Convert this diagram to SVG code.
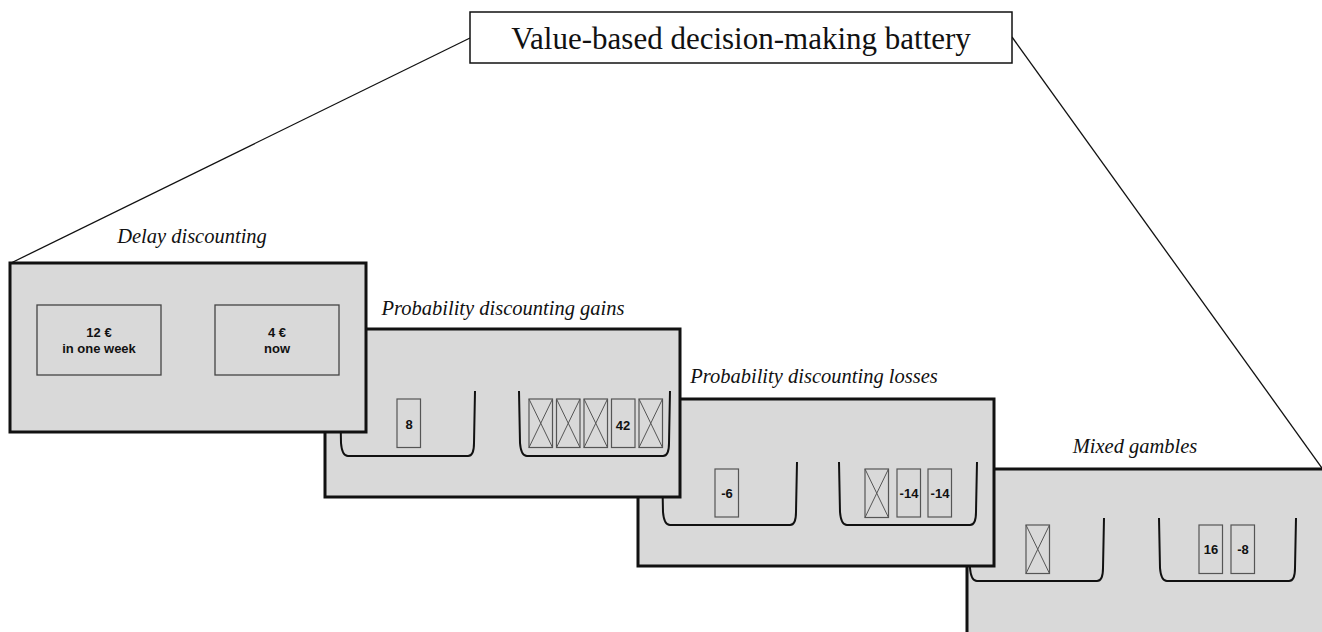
<svg xmlns="http://www.w3.org/2000/svg" width="1322" height="632" viewBox="0 0 1322 632">
  <style>
    .frame { fill: #d9d9d9; stroke: #111; stroke-width: 3; }
    .label { font-family: "Liberation Serif", "Times New Roman", serif; font-style: italic; font-size: 20.5px; fill: #111; text-anchor: middle; }
    .title-box { fill: #fff; stroke: #111; stroke-width: 1.5; }
    .title { font-family: "Liberation Serif", "Times New Roman", serif; font-size: 31px; fill: #111; text-anchor: middle; }
    .option { fill: none; stroke: #444; stroke-width: 1.3; }
    .card { fill: none; stroke: #555; stroke-width: 1.2; }
    .cross { stroke: #555; stroke-width: 1; }
    .bucket { fill: none; stroke: #111; stroke-width: 2; }
    .val { font-family: "Liberation Sans", Arial, sans-serif; font-weight: bold; font-size: 13px; fill: #111; text-anchor: middle; }
    .opt-text { font-family: "Liberation Sans", Arial, sans-serif; font-weight: bold; font-size: 13px; fill: #111; text-anchor: middle; }
    .link { stroke: #111; stroke-width: 1.3; fill: none; }
  </style>
  <defs>
    <!-- covered (hidden) card: box with a cross -->
    <g id="hidden-card">
      <rect class="card" x="0" y="0" width="23.5" height="48.5"/>
      <line class="cross" x1="0" y1="0" x2="23.5" y2="48.5"/>
      <line class="cross" x1="23.5" y1="0" x2="0" y2="48.5"/>
    </g>
  </defs>

  <!-- connectors from the battery title to the first and last task -->
  <g id="connectors">
    <line class="link" x1="470" y1="38" x2="11" y2="263"/>
    <line class="link" x1="1012" y1="37" x2="1322" y2="468"/>
  </g>

  <!-- Mixed gambles -->
  <g id="mixed-gambles">
    <text class="label" x="1135" y="453">Mixed gambles</text>
    <rect class="frame" x="967" y="469" width="360" height="170"/>
    <path class="bucket" d="M970,518 L970,568 Q971,581 977,581 L1097,581 Q1103,581 1103,568 L1104,518"/>
    <path class="bucket" d="M1159,518 L1160,568 Q1161,581 1167,581 L1289,581 Q1295,581 1295,568 L1296,518"/>
    <use href="#hidden-card" x="1026" y="525"/>
    <rect class="card" x="1199" y="525" width="23.5" height="48.5"/>
    <text class="val" x="1211" y="554">16</text>
    <rect class="card" x="1231" y="525" width="23.5" height="48.5"/>
    <text class="val" x="1243" y="554">-8</text>
  </g>

  <!-- Probability discounting losses -->
  <g id="prob-losses">
    <text class="label" x="814" y="383">Probability discounting losses</text>
    <rect class="frame" x="638" y="399" width="356" height="167"/>
    <path class="bucket" d="M662,462 L663,512 Q664,525 670,525 L790,525 Q796,525 796,512 L797,462"/>
    <path class="bucket" d="M839,462 L840,512 Q841,525 847,525 L970,525 Q976,525 976,512 L977,462"/>
    <rect class="card" x="715" y="469" width="23.5" height="48"/>
    <text class="val" x="727" y="497.5">-6</text>
    <use href="#hidden-card" x="865" y="469"/>
    <rect class="card" x="897" y="469" width="23.5" height="48"/>
    <text class="val" x="909" y="497.5">-14</text>
    <rect class="card" x="928" y="469" width="23.5" height="48"/>
    <text class="val" x="940" y="497.5">-14</text>
  </g>

  <!-- Probability discounting gains -->
  <g id="prob-gains">
    <text class="label" x="503" y="315">Probability discounting gains</text>
    <rect class="frame" x="325" y="329" width="355" height="168"/>
    <path class="bucket" d="M340,391 L341,443 Q342,456 348,456 L468,456 Q474,456 474,443 L475,391"/>
    <path class="bucket" d="M519,391 L520,443 Q521,456 527,456 L663,456 Q669,456 669,443 L670,391"/>
    <rect class="card" x="397" y="399" width="23.5" height="48.5"/>
    <text class="val" x="409" y="428.5">8</text>
    <use href="#hidden-card" x="529" y="399"/>
    <use href="#hidden-card" x="556.5" y="399"/>
    <use href="#hidden-card" x="584" y="399"/>
    <rect class="card" x="611.5" y="399" width="23.5" height="48.5"/>
    <text class="val" x="623" y="430">42</text>
    <use href="#hidden-card" x="639" y="399"/>
  </g>

  <!-- Delay discounting -->
  <g id="delay-discounting">
    <text class="label" x="192" y="243">Delay discounting</text>
    <rect class="frame" x="10" y="263" width="356" height="169"/>
    <rect class="option" x="37" y="305" width="124" height="70"/>
    <text class="opt-text" x="99" y="337">12 €</text>
    <text class="opt-text" x="99" y="353">in one week</text>
    <rect class="option" x="215" y="305" width="124" height="70"/>
    <text class="opt-text" x="277" y="337">4 €</text>
    <text class="opt-text" x="277" y="353">now</text>
  </g>

  <!-- Battery title -->
  <g id="battery-title">
    <rect class="title-box" x="470" y="12" width="542" height="51"/>
    <text class="title" x="741" y="49">Value-based decision-making battery</text>
  </g>
</svg>
